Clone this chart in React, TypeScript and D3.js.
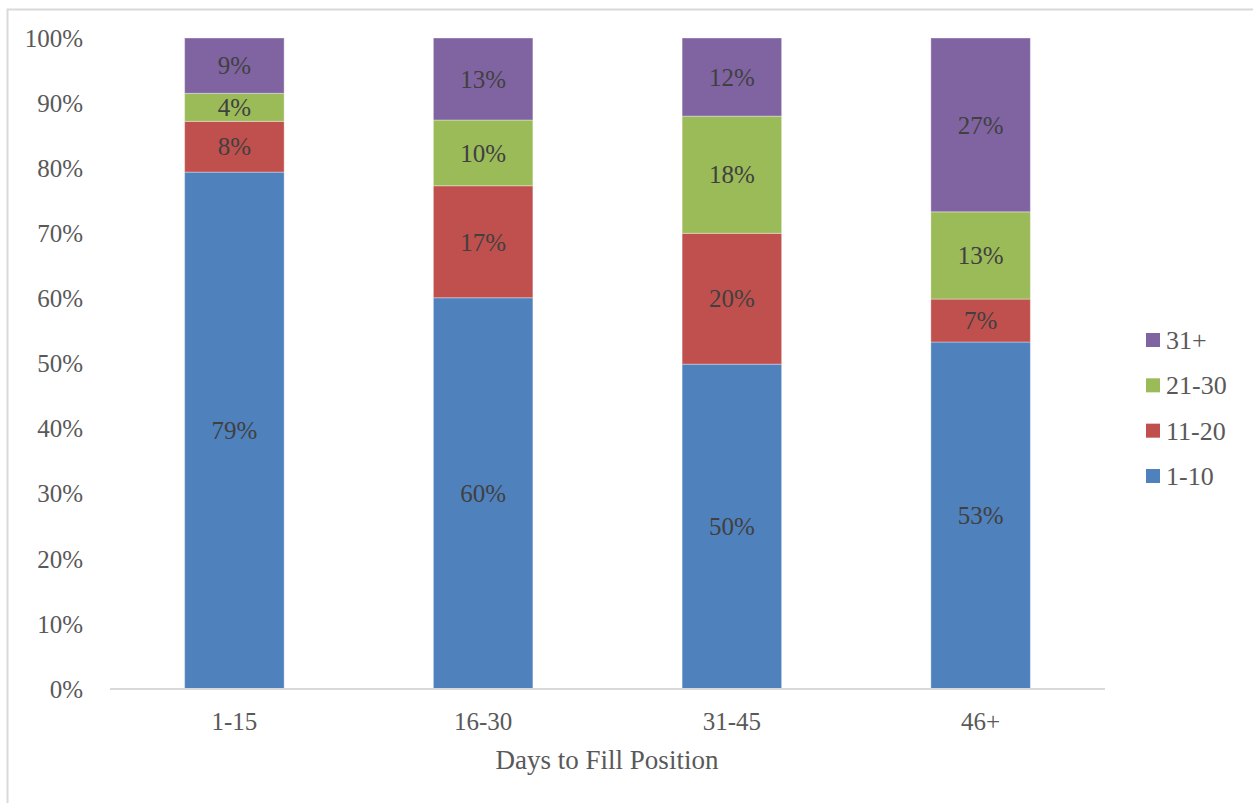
import * as d3 from "d3"

const categories = ["1-15", "16-30", "31-45", "46+"]
const seriesNames = ["1-10", "11-20", "21-30", "31+"]
const s1to10 = [79.4, 60.1, 49.9, 53.3]
const s11to20 = [7.8, 17.2, 20.1, 6.6]
const s21to30 = [4.3, 10.1, 18.0, 13.4]
const s31plus = [8.5, 12.6, 12.0, 26.7]
const yTicks = [0, 10, 20, 30, 40, 50, 60, 70, 80, 90, 100]
const colors = ["#4F81BD", "#C0504D", "#9BBB59", "#8064A2"]

const W = 1253
const H = 803
const FONT = "'Liberation Serif', 'Times New Roman', serif"

export default function App() {
  const rows = categories.map((c, i) => ({
    cat: c,
    "1-10": s1to10[i],
    "11-20": s11to20[i],
    "21-30": s21to30[i],
    "31+": s31plus[i],
  }))
  const stack = d3.stack<any>().keys(seriesNames)(rows)

  const x = d3.scaleBand().domain(categories).range([110, 1105]).paddingInner(0.6).paddingOuter(0.3)
  const y = d3.scaleLinear().domain([0, 100]).range([689, 38])

  const legendY = d3.scalePoint().domain([...seriesNames].reverse()).range([340, 476])

  return (
    <svg width={W} height={H} style={{ position: "absolute", left: 0, top: 0, background: "#fff" }}
      fontFamily={FONT}>
      <rect x={7.5} y={9.5} width={1400} height={900} fill="none" stroke="#d9d9d9" strokeWidth={2} />

      {/* y tick labels */}
      {yTicks.map((t) => (
        <text key={t} x={83} y={y(t)} dy="0.35em" textAnchor="end" fontSize={25} fill="#595959">
          {t}%
        </text>
      ))}

      {/* bars */}
      {stack.map((s, si) => (
        <g key={s.key}>
          {s.map((d, i) => (
            <rect key={i} x={x(categories[i])} y={y(d[1])} width={x.bandwidth()}
              height={y(d[0]) - y(d[1])} fill={colors[si]} stroke="#ffffff" strokeOpacity={0.35} strokeWidth={1} />
          ))}
        </g>
      ))}

      {/* data labels */}
      {stack.map((s) => (
        <g key={"l" + s.key}>
          {s.map((d, i) => (
            <text key={i} x={x(categories[i])! + x.bandwidth() / 2} y={(y(d[0]) + y(d[1])) / 2}
              dy="0.35em" textAnchor="middle" fontSize={25} fill="#404040">
              {Math.round(d[1] - d[0])}%
            </text>
          ))}
        </g>
      ))}

      {/* x axis */}
      <line x1={110} x2={1105} y1={y(0)} y2={y(0)} stroke="#d9d9d9" strokeWidth={2} />
      {categories.map((c) => (
        <text key={c} x={x(c)! + x.bandwidth() / 2} y={721} dy="0.35em" textAnchor="middle"
          fontSize={25} fill="#595959">{c}</text>
      ))}
      <text x={607} y={760} dy="0.35em" textAnchor="middle" fontSize={27} fill="#595959">
        Days to Fill Position
      </text>

      {/* legend */}
      {seriesNames.map((n, i) => (
        <g key={n} transform={`translate(1146,${legendY(n)})`}>
          <rect x={0} y={-7} width={14} height={14} fill={colors[i]} />
          <text x={20} y={0} dy="0.35em" fontSize={26} fill="#595959">{n}</text>
        </g>
      ))}
    </svg>
  )
}
